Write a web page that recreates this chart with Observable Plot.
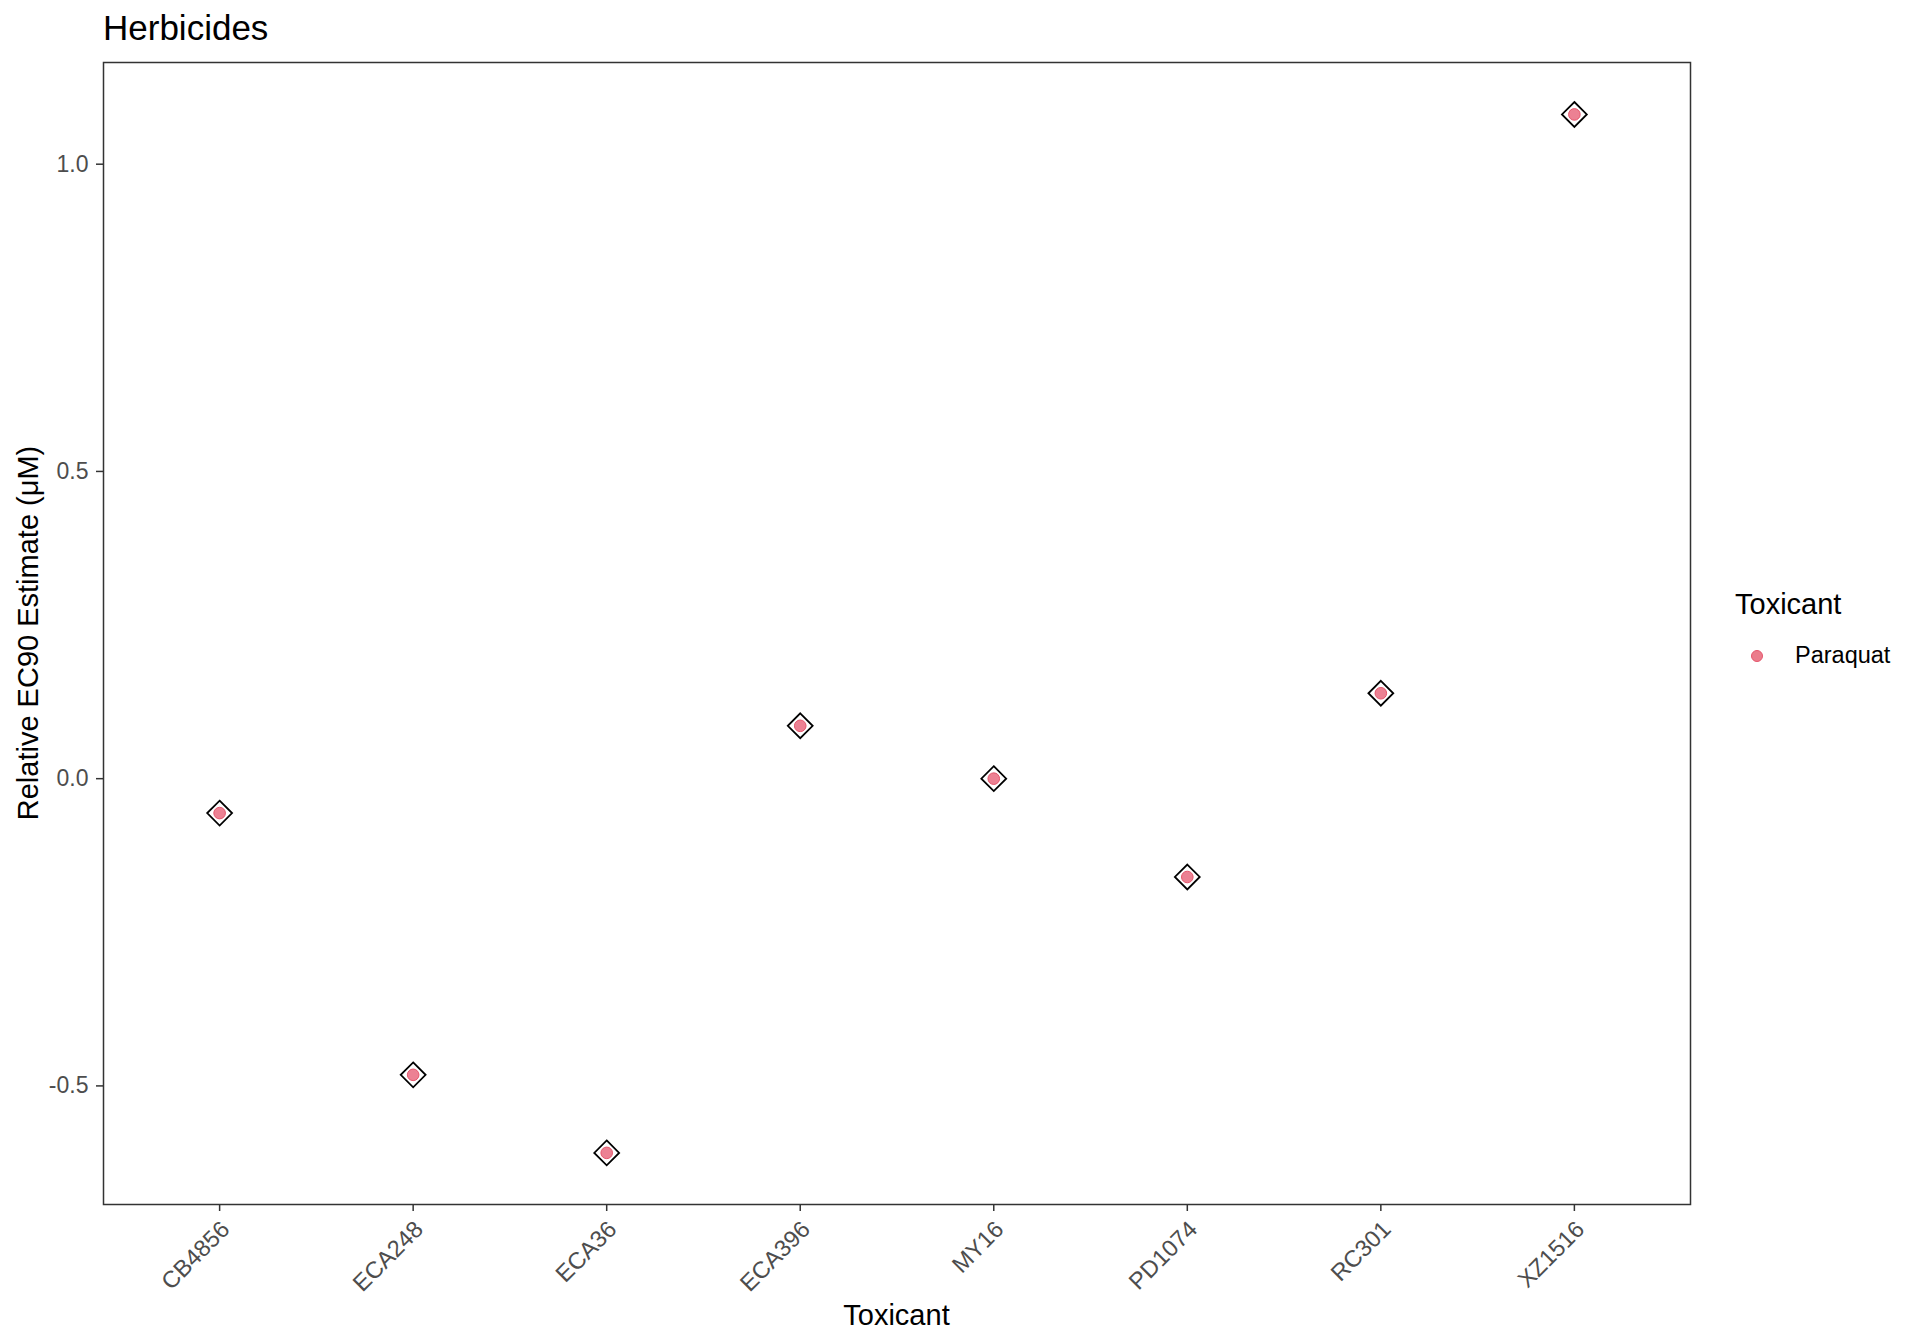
<!DOCTYPE html>
<html>
<head>
<meta charset="utf-8">
<script src="https://cdn.jsdelivr.net/npm/d3@7"></script>
<script src="https://cdn.jsdelivr.net/npm/@observablehq/plot@0.6"></script>
<style>
  html, body { margin: 0; padding: 0; background: #fff; }
  #wrap { position: relative; width: 1920px; height: 1344px; font-family: "Liberation Sans", Arial, Helvetica, sans-serif; }
  #title { position: absolute; left: 103px; top: 10px; font-size: 35px; color: #000; line-height: 1; }
  #legend { position: absolute; left: 1735px; top: 590px; color: #000; }
  #legend .lt { font-size: 29px; line-height: 1; }
  #legend .row { display: flex; align-items: center; margin-top: 25px; }
  #legend .sw { width: 12px; height: 12px; border-radius: 50%; background: rgba(228,80,100,0.75); border: 1px solid #e5566c; margin-left: 16px; margin-right: 32px; box-sizing: border-box; }
  #legend .lb { font-size: 23.5px; line-height: 1; }
</style>
</head>
<body>
<div id="wrap">
  <div id="chart"></div>
  <div id="title">Herbicides</div>
  <div id="legend">
    <div class="lt">Toxicant</div>
    <div class="row"><div class="sw"></div><div class="lb">Paraquat</div></div>
  </div>
</div>
<script>
const strains = ["CB4856", "ECA248", "ECA36", "ECA396", "MY16", "PD1074", "RC301", "XZ1516"];
const ec90 = [-0.056, -0.482, -0.609, 0.086, 0.0, -0.16, 0.139, 1.081];
const toxicant = ["Paraquat", "Paraquat", "Paraquat", "Paraquat", "Paraquat", "Paraquat", "Paraquat", "Paraquat"];
const yTicks = [-0.5, 0.0, 0.5, 1.0];

const data = strains.map((s, i) => ({strain: s, value: ec90[i], toxicant: toxicant[i]}));

const chart = Plot.plot({
  width: 1920,
  height: 1344,
  marginLeft: 103,
  marginRight: 230,
  marginTop: 62,
  marginBottom: 140,
  style: {fontFamily: "Liberation Sans, Arial, Helvetica, sans-serif", background: "#fff"},
  x: {type: "point", domain: strains, padding: 0.6, round: false},
  y: {domain: [-0.693, 1.1655]},
  marks: [
    Plot.axisY({
      ticks: yTicks,
      tickFormat: d => d.toFixed(1),
      tickSize: 7,
      tickPadding: 8,
      fontSize: 23,
      color: "#4d4d4d",
      stroke: "#333",
      strokeWidth: 1.5,
      label: null
    }),
    Plot.axisX({
      tickRotate: -45,
      tickSize: 7,
      tickPadding: 13,
      fontSize: 23.5,
      color: "#4d4d4d",
      stroke: "#333",
      strokeWidth: 1.5,
      label: null
    }),
    Plot.frame({stroke: "#333", strokeWidth: 1.5}),
    Plot.dot(data, {x: "strain", y: "value", symbol: "diamond2", r: 11.2, stroke: "#000", strokeWidth: 1.8, fill: "none"}),
    Plot.dot(data, {x: "strain", y: "value", r: 5.8, fill: "#e4506a", fillOpacity: 0.72, stroke: "#e5566c", strokeWidth: 1})
  ]
});

const svg = d3.select(chart);
// Shift rotated x tick labels to match ggplot's hjust=1/vjust=1 anchoring
svg.selectAll("g[aria-label='x-axis tick label'] text")
  .attr("dx", null);
svg.selectAll("g[aria-label='x-axis tick label']")
  .attr("transform", function() {
    const t = this.getAttribute("transform") || "";
    return t + " translate(6,1)";
  });
// Axis titles
svg.append("text")
  .attr("x", (103 + 1690) / 2)
  .attr("y", 1325)
  .attr("text-anchor", "middle")
  .attr("font-size", 29)
  .attr("fill", "#000")
  .text("Toxicant");
svg.append("text")
  .attr("transform", `translate(38, ${(62 + 1204) / 2}) rotate(-90)`)
  .attr("text-anchor", "middle")
  .attr("font-size", 29)
  .attr("fill", "#000")
  .text("Relative EC90 Estimate (μM)");

document.getElementById("chart").appendChild(chart);
</script>
</body>
</html>
